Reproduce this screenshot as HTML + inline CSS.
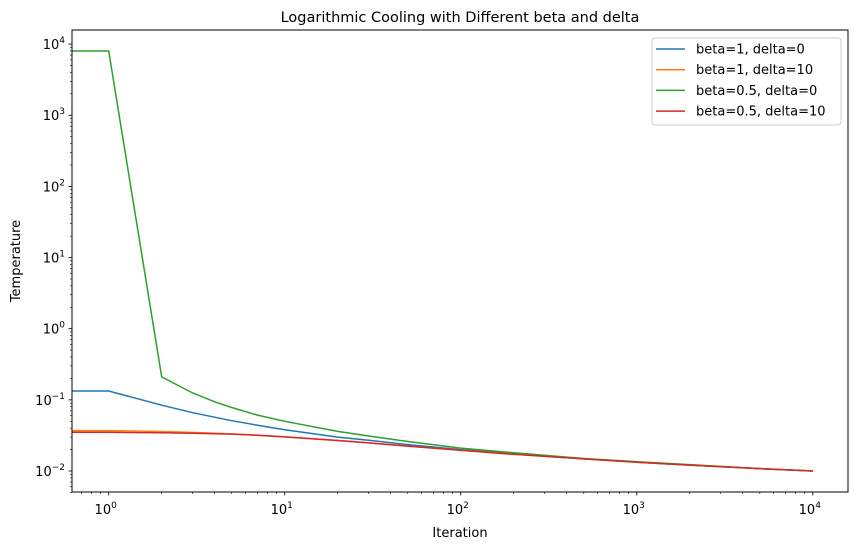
<!DOCTYPE html>
<html><head><meta charset="utf-8"><style>
body{margin:0;background:#fff;}
svg{display:block;font-family:"DejaVu Sans","Liberation Sans",sans-serif;}
</style></head><body>
<svg id="chart" width="857" height="550" xmlns="http://www.w3.org/2000/svg">
<defs><clipPath id="pc"><rect x="72" y="30" width="776" height="462"/></clipPath></defs>
<text x="460" y="22" text-anchor="middle" font-size="14.5">Logarithmic Cooling with Different beta and delta</text>
<text x="460" y="537" text-anchor="middle" font-size="13">Iteration</text>
<text transform="translate(20,261) rotate(-90)" text-anchor="middle" font-size="13">Temperature</text>
<g id="axes"></g>
<g id="series" clip-path="url(#pc)"></g>
<rect x="72" y="30" width="776" height="462" fill="none" stroke="#000" stroke-width="1"/>
<g id="legend"></g>
</svg>
<script>
const iterations = [0,1,2,3,4,5,7,10,20,30,50,100,200,500,1000,2000,5000,10000];
const seriesNames = ["beta=1, delta=0","beta=1, delta=10","beta=0.5, delta=0","beta=0.5, delta=10"];
const blueVals = [0.133,0.133,0.084,0.066,0.057,0.051,0.044,0.038,0.030,0.027,0.0235,0.020,0.0174,0.0148,0.0133,0.0121,0.0108,0.01];
const orangeVals = [0.037,0.037,0.0359,0.0349,0.034,0.0332,0.0319,0.0302,0.0268,0.0248,0.0224,0.0196,0.0172,0.0148,0.0133,0.0121,0.0108,0.01];
const greenVals = [8000,8000,0.21,0.125,0.094,0.078,0.061,0.05,0.036,0.031,0.026,0.021,0.018,0.015,0.0135,0.0123,0.0108,0.01];
const redVals = [0.035,0.035,0.0345,0.034,0.0335,0.033,0.0318,0.0302,0.0268,0.0248,0.0224,0.0196,0.0172,0.0148,0.0133,0.0121,0.0108,0.01];
const xTickExps = [0,1,2,3,4];
const yTickExps = [-2,-1,0,1,2,3,4];
const colors = ["#1f77b4","#ff7f0e","#2ca02c","#d62728"];

const NS="http://www.w3.org/2000/svg";
const L=72,R=848,T=30,B=492;
const xMinL=-0.2085,xMaxL=4.2,yMinL=-2.295,yMaxL=4.198;
function xs(v){const l=v>0?Math.log10(v):xMinL-1;return L+(l-xMinL)/(xMaxL-xMinL)*(R-L);}
function ys(v){return B-(Math.log10(v)-yMinL)/(yMaxL-yMinL)*(B-T);}
function mk(t,a,p){const e=document.createElementNS(NS,t);for(const k in a)e.setAttribute(k,a[k]);p.appendChild(e);return e;}
const axes=document.getElementById('axes');
// x ticks
for(let d=-1;d<=4;d++){for(let m=1;m<10;m++){const v=m*Math.pow(10,d);const x=xs(v);if(x<L-0.5||x>R+0.5)continue;
 const tk=mk('line',{x1:x,x2:x,y1:B,y2:B+(m===1?3.5:2),stroke:'#000','stroke-width':m===1?0.8:0.6},axes);
 
 }}
xTickExps.forEach(e=>{const x=xs(Math.pow(10,e));const t=mk('text',{x:x-3,y:B+22,'text-anchor':'middle','font-size':'13'},axes);
 
 
 t.innerHTML='10<tspan dy="-6" font-size="9">'+e+'</tspan>';});
for(let d=-3;d<=4;d++){for(let m=1;m<10;m++){const v=m*Math.pow(10,d);const y=ys(v);if(y<T-0.5||y>B+0.5)continue;
 const tk=mk('line',{x1:L-(m===1?3.5:2),x2:L,y1:y,y2:y,stroke:'#000','stroke-width':m===1?0.8:0.6},axes);
 
 }}
yTickExps.forEach(e=>{const y=ys(Math.pow(10,e));const t=mk('text',{x:L-7,y:y+5,'text-anchor':'end','font-size':'13'},axes);
 
 
 t.innerHTML='10<tspan dy="-6" font-size="9">'+(e<0?'\u2212'+(-e):e)+'</tspan>';});
const sg=document.getElementById('series');
[blueVals,orangeVals,greenVals,redVals].forEach((vals,i)=>{
 const pts=iterations.map((it,j)=>xs(it).toFixed(1)+','+ys(vals[j]).toFixed(1)).join(' ');
 const pl=mk('polyline',{points:pts,fill:'none',stroke:colors[i],'stroke-width':1.5},sg);
 
 });
const lg=document.getElementById('legend');
const box=mk('rect',{x:652,y:38,width:189,height:87,rx:3,fill:'#fff','fill-opacity':0.8,stroke:'#ccc'},lg);


seriesNames.forEach((n,i)=>{const y=49+i*20.7;
 const ln=mk('line',{x1:656,x2:685,y1:y,y2:y,stroke:colors[i],'stroke-width':1.5},lg);
 
 
 const t=mk('text',{x:696,y:y+4.5,'font-size':'13'},lg);
 
 
 t.textContent=n;});
</script>
</body></html>
